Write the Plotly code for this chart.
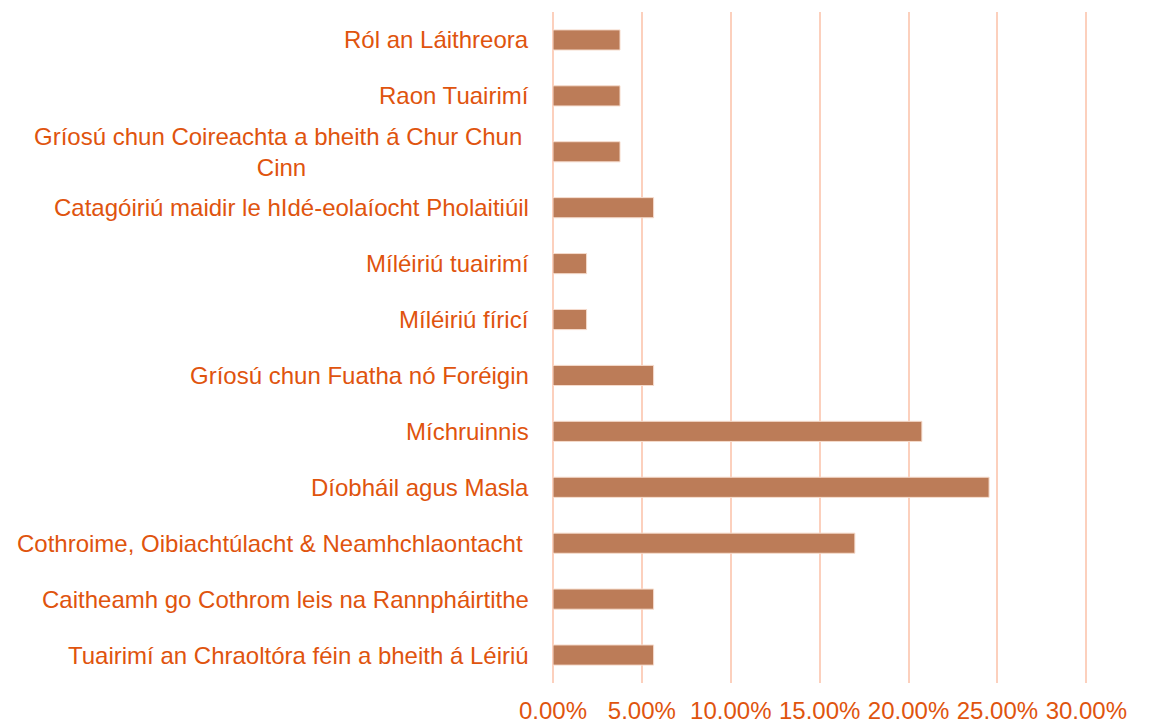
import plotly.graph_objects as go

categories = [
    "Tuairimí an Chraoltóra féin a bheith á Léiriú",
    "Caitheamh go Cothrom leis na Rannpháirtithe",
    "Cothroime, Oibiachtúlacht & Neamhchlaontacht&nbsp;",
    "Díobháil agus Masla",
    "Míchruinnis",
    "Gríosú chun Fuatha nó Foréigin",
    "Míléiriú fíricí",
    "Míléiriú tuairimí",
    "Catagóiriú maidir le hIdé-eolaíocht Pholaitiúil",
    "Gríosú chun Coireachta a bheith á Chur Chun&nbsp;<br>Cinn",
    "Raon Tuairimí",
    "Ról an Láithreora",
]
values = [0.0566, 0.0566, 0.1698, 0.2453, 0.2075, 0.0566, 0.0189, 0.0189, 0.0566, 0.0377, 0.0377, 0.0377]
x_ticks = [0, 0.05, 0.10, 0.15, 0.20, 0.25, 0.30]

TEXT = "#DF540E"
GRID = "#FCD0BD"
BAR = "#BC7C58"
FONT = "Liberation Sans, Arial"

fig = go.Figure()
fig.add_trace(go.Bar(
    y=list(range(len(categories))),
    x=values,
    orientation="h",
    width=0.36,
    marker=dict(color=BAR, line=dict(color="#F6DCCD", width=1)),
))

for i, c in enumerate(categories):
    fig.add_annotation(
        x=0, xref="paper", y=i, yref="y",
        text=c, showarrow=False, xanchor="right", yanchor="middle",
        align="center", xshift=-22,
        font=dict(family=FONT, size=24, color=TEXT),
    )

# page body has an 8px margin, so the figure is sized/offset to compensate
fig.update_layout(
    width=1147, height=715,
    margin=dict(l=545, r=66, t=4, b=40),
    paper_bgcolor="white", plot_bgcolor="white",
    showlegend=False,
    font=dict(family=FONT, size=24, color=TEXT),
)
fig.update_xaxes(
    range=[0, 0.3015], tickvals=x_ticks, tickformat=".2%",
    showgrid=True, gridcolor=GRID, gridwidth=2,
    zeroline=True, zerolinecolor=GRID, zerolinewidth=2,
    ticks="outside", ticklen=6, tickcolor="rgba(0,0,0,0)",
    tickfont=dict(family=FONT, size=24, color=TEXT),
    showline=False, fixedrange=True, automargin=False,
)
fig.update_yaxes(
    range=[-0.5, len(categories) - 0.5],
    showticklabels=False, showgrid=False, zeroline=False, showline=False,
    fixedrange=True, automargin=False,
)

fig.write_html("out.html")
